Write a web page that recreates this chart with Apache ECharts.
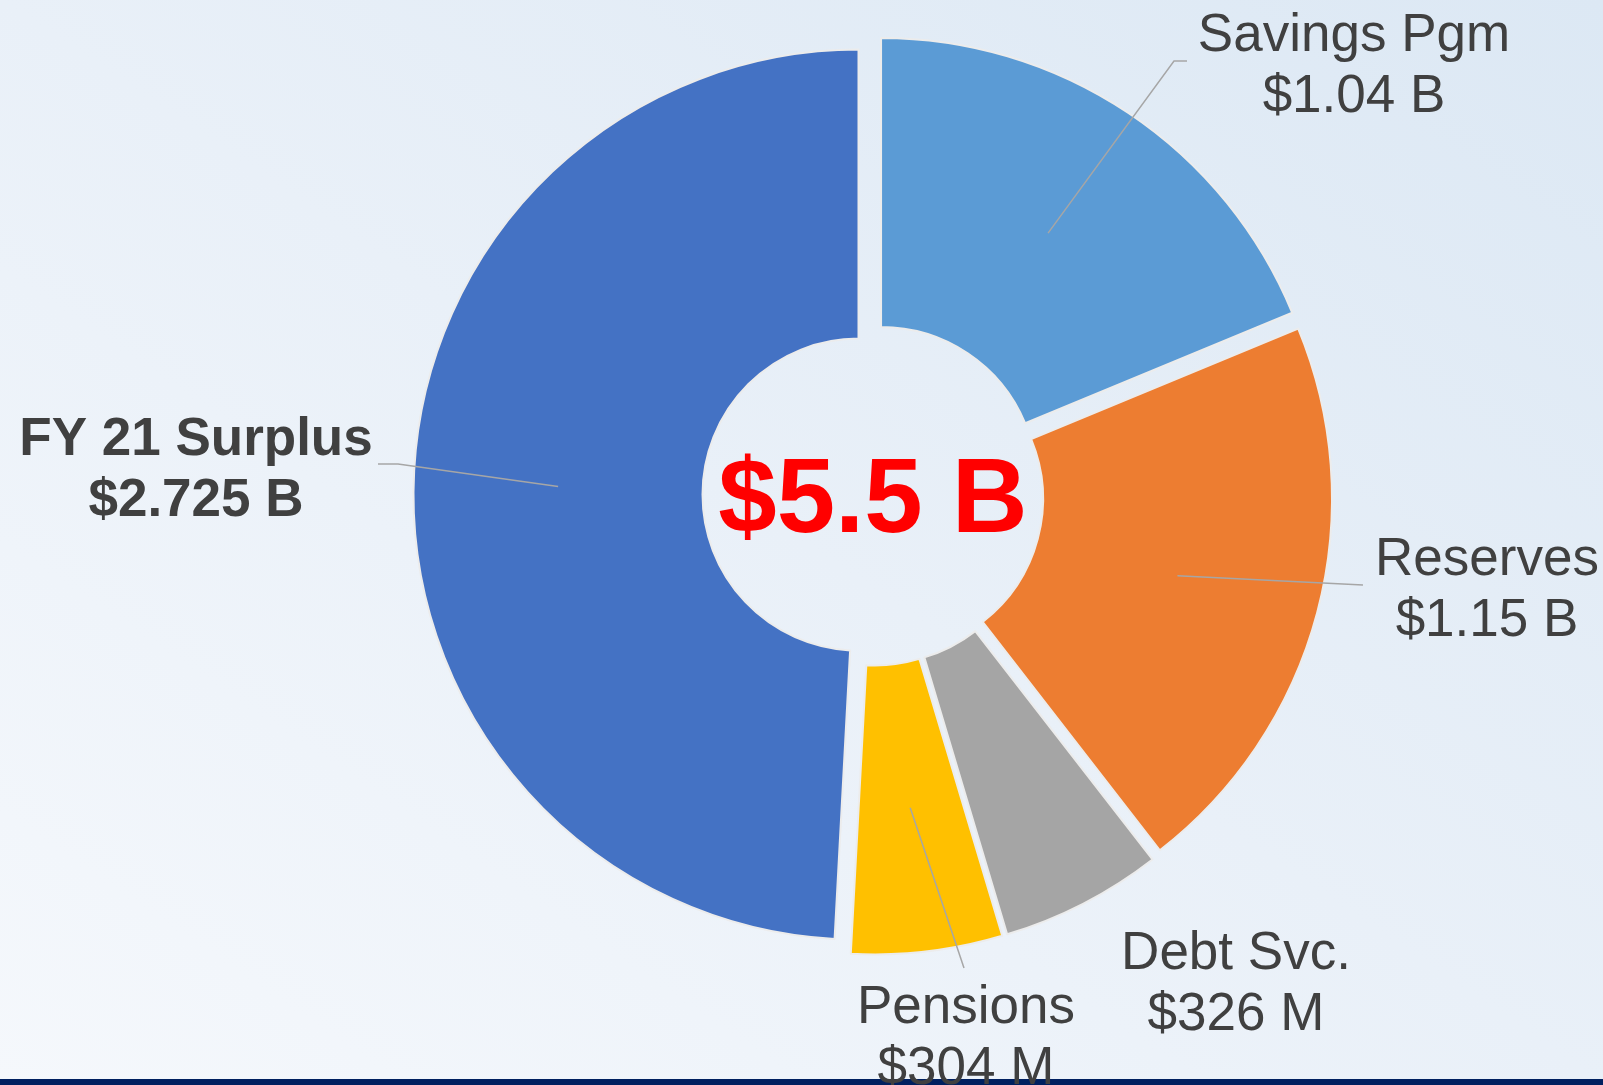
<!DOCTYPE html>
<html>
<head>
<meta charset="utf-8">
<script src="https://cdn.jsdelivr.net/npm/echarts@6/dist/echarts.min.js"></script>
<style>
  html, body { margin: 0; padding: 0; }
  #chart {
    width: 1603px;
    height: 1085px;
    background: linear-gradient(to top right, #f5f8fc 0%, #e9f0f8 50%, #dce8f4 100%);
  }
</style>
</head>
<body>
<div id="chart"></div>
<script>
// 数据（单位：十亿美元），顺时针从 12 点开始
var names = ['Savings Pgm', 'Reserves', 'Debt Svc.', 'Pensions', 'FY 21 Surplus']
var values = [1.04, 1.15, 0.326, 0.304, 2.725]
var colors = ['#5B9BD5', '#ED7D31', '#A5A5A5', '#FFC000', '#4472C4']

// 圆环尺寸
var cx = 873, cy = 495, r0 = 156, r1 = 445, explode = 14.5

// 标签位置（文字块中心）和引线终点
var labelPos = [
  { x: 1354, y: 67, line: [[1174, 61], [1187, 61]] },
  { x: 1487, y: 591, line: [[1363, 585], [1363, 585]] },
  { x: 1236, y: 985, line: null },
  { x: 966, y: 1039, line: [[964, 968], [964, 968]] },
  { x: 196, y: 471, line: [[398, 464], [378, 464]] }
]

var total = values.reduce(function (a, b) { return a + b }, 0)

function fmtMoney(v) {
  if (v >= 1) return '$' + v + ' B'
  return '$' + Math.round(v * 1000) + ' M'
}

// 切片中心点（中间角度、中间半径，含偏移）
function sliceAnchor(idx) {
  var before = 0
  for (var i = 0; i < idx; i++) before += values[i]
  var theta = (before + values[idx] / 2) / total * Math.PI * 2
  var dist = explode + (r0 + r1) / 2
  return [cx + dist * Math.sin(theta), cy - dist * Math.cos(theta)]
}

var myChart = echarts.init(document.getElementById('chart'))
var fontFamily = '"Liberation Sans", Arial, sans-serif'

var option = {
  animation: false,
  graphic: [
    {
      type: 'rect',
      x: 0, y: 1079,
      shape: { width: 1603, height: 6 },
      style: { fill: '#002060' },
      z: 0
    },
    {
      type: 'text',
      x: cx, y: 503,
      z: 10,
      style: {
        text: '$' + total.toFixed(1) + ' B',
        fill: '#FF0000',
        fontSize: 105,
        fontWeight: 'bold',
        fontFamily: fontFamily,
        align: 'center',
        verticalAlign: 'middle'
      }
    }
  ],
  series: [
    // 分离的圆环切片
    {
      type: 'pie',
      z: 2,
      center: [cx, cy],
      radius: [r0, r1],
      startAngle: 90,
      clockwise: true,
      selectedMode: 'multiple',
      selectedOffset: explode,
      itemStyle: { borderColor: '#ececec', borderWidth: 2 },
      select: { itemStyle: { borderColor: '#ececec', borderWidth: 2 } },
      emphasis: { disabled: true },
      label: { show: false },
      labelLine: { show: false },
      data: names.map(function (n, i) {
        return { name: n, value: values[i], selected: true, itemStyle: { color: colors[i] } }
      })
    },
    // 标签层（透明切片，只负责文字和引线）
    {
      type: 'pie',
      z: 3,
      silent: true,
      center: [cx, cy],
      radius: [r0, r1],
      startAngle: 90,
      clockwise: true,
      selectedMode: false,
      avoidLabelOverlap: false,
      itemStyle: { color: 'rgba(0,0,0,0)', borderWidth: 0 },
      emphasis: { disabled: true },
      label: {
        show: true,
        color: '#404040',
        fontSize: 53,
        fontFamily: fontFamily,
        lineHeight: 61,
        formatter: function (p) {
          return p.name + '\n' + fmtMoney(p.value)
        }
      },
      labelLine: {
        show: true,
        length: 10,
        length2: 10,
        lineStyle: { color: '#a6a6a6', width: 1.5 }
      },
      labelLayout: function (p) {
        var pos = labelPos[p.dataIndex]
        var res = { x: pos.x, y: pos.y, align: 'center', verticalAlign: 'middle' }
        if (pos.line) {
          res.labelLinePoints = [sliceAnchor(p.dataIndex), pos.line[0], pos.line[1]]
        }
        return res
      },
      data: names.map(function (n, i) {
        var item = { name: n, value: values[i] }
        if (n === 'FY 21 Surplus') {
          item.label = { fontWeight: 'bold', fontSize: 53 }
        }
        if (n === 'Debt Svc.') {
          item.labelLine = { show: false }
        }
        return item
      })
    }
  ]
}

myChart.setOption(option)
window.addEventListener('resize', function () {
  myChart.resize()
})
</script>
</body>
</html>
